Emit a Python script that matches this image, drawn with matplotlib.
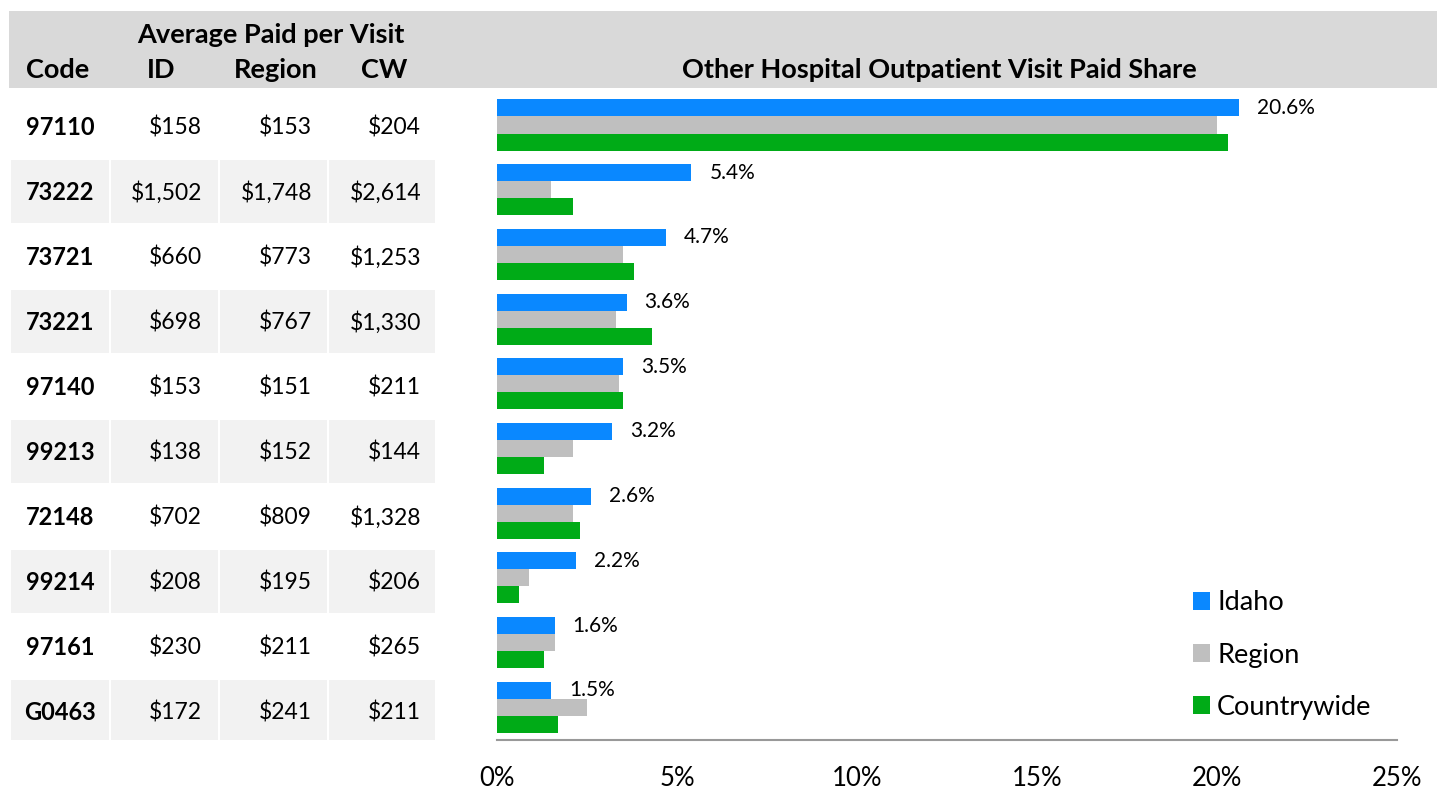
import matplotlib

matplotlib.use("Agg")
import matplotlib.pyplot as plt
from matplotlib.patches import Patch, Rectangle

plt.rcParams["font.family"] = ["Lato", "DejaVu Sans"]

codes = ["97110", "73222", "73721", "73221", "97140", "99213", "72148", "99214", "97161", "G0463"]
paid_id = [158, 1502, 660, 698, 153, 138, 702, 208, 230, 172]
paid_region = [153, 1748, 773, 767, 151, 152, 809, 195, 211, 241]
paid_cw = [204, 2614, 1253, 1330, 211, 144, 1328, 206, 265, 211]

share_idaho = [20.6, 5.4, 4.7, 3.6, 3.5, 3.2, 2.6, 2.2, 1.6, 1.5]
share_region = [20.0, 1.5, 3.5, 3.3, 3.4, 2.1, 2.1, 0.9, 1.6, 2.5]
share_cw = [20.3, 2.1, 3.8, 4.3, 3.5, 1.3, 2.3, 0.6, 1.3, 1.7]

series = ["Idaho", "Region", "Countrywide"]
colors = ["#0A88FF", "#BFBFBF", "#00AB17"]
xticks = [0, 5, 10, 15, 20, 25]

W, H = 1437, 790
fig = plt.figure(figsize=(W / 100, H / 100), dpi=100)

# pixel-space background: header band and column headings
bg = fig.add_axes([0, 0, 1, 1], zorder=0)
bg.set_xlim(0, W)
bg.set_ylim(H, 0)
bg.axis("off")
bg.add_patch(Rectangle((9, 11), W - 9, 77, color="#D9D9D9", lw=0))
hdr = dict(fontsize=19.5, fontweight="bold", ha="center", va="baseline")
bg.text(271, 43, "Average Paid per Visit", **hdr)
for x, t in zip([58, 161, 276, 384], ["Code", "ID", "Region", "CW"]):
    bg.text(x, 78, t, **hdr)
bg.text(939, 78, "Other Hospital Outpatient Visit Paid Share", **hdr)

# table rows: 65 px apart, first row centred at y=126.5
tab_top, tab_bot = 94, 740
tab = fig.add_axes([0, 1 - tab_bot / H, 437 / W, (tab_bot - tab_top) / H], zorder=1)
tab.set_xlim(0, 437)
tab.set_ylim((tab_bot - 126.5) / 65, (tab_top - 126.5) / 65)
tab.axis("off")
cols = [(11, 109), (111, 218), (220, 327), (329, 435)]
for i, code in enumerate(codes):
    if i % 2 == 1:
        for x0, x1 in cols:
            tab.add_patch(Rectangle((x0, i - 0.485), x1 - x0, 0.97, color="#F2F2F2", lw=0))
    tab.text(60, i + 0.13, code, fontsize=17, fontweight="bold", ha="center", va="baseline")
    for xr, vals in zip([202, 312, 421], [paid_id, paid_region, paid_cw]):
        tab.text(xr, i + 0.13, f"${vals[i]:,}", fontsize=16.5, ha="right", va="baseline")

# bar chart: groups 64.7 px apart, first centred at y=125, axis line at y=740
ax_top, ax_bot = 92.65, 740
ax = fig.add_axes([497 / W, 1 - ax_bot / H, 900 / W, (ax_bot - ax_top) / H], zorder=2)
ax.patch.set_alpha(0)
ys = range(len(codes))
bh = 0.263
for k, (vals, c) in enumerate(zip([share_idaho, share_region, share_cw], colors)):
    bars = ax.barh([y + (k - 1) * bh for y in ys], vals, height=bh, color=c, lw=0)
    if k == 0:
        ax.bar_label(bars, labels=[f"{v}%" for v in vals], padding=13, fontsize=15)

ax.set_xlim(0, 25)
ax.set_ylim((ax_bot - 125) / 64.7, (ax_top - 125) / 64.7)
ax.set_yticks([])
ax.set_xticks(xticks)
ax.set_xticklabels([f"{t}%" for t in xticks], fontsize=18.5)
ax.tick_params(axis="x", length=0, pad=19)
for s in ["top", "right", "left"]:
    ax.spines[s].set_visible(False)
ax.spines["bottom"].set_color("#999999")
ax.spines["bottom"].set_linewidth(1.5)

handles = [Patch(color=c, lw=0) for c in colors]
ax.legend(handles, series, loc="center left", bbox_to_anchor=(1193 / W, 1 - 655 / H),
          bbox_transform=fig.transFigure, frameon=False, fontsize=19.5,
          handlelength=0.63, handleheight=0.63, handletextpad=0.26,
          labelspacing=1.0, borderpad=0, borderaxespad=0)

fig.savefig("out.png", dpi=100)
